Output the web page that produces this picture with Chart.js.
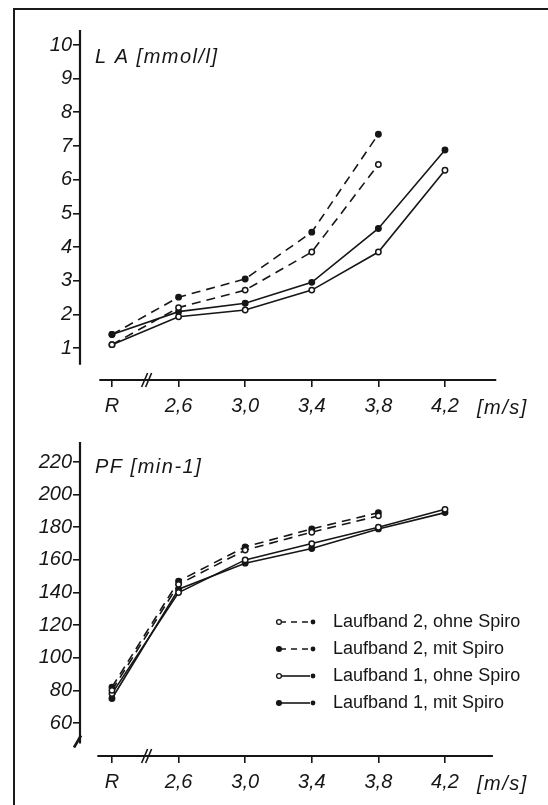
<!DOCTYPE html>
<html>
<head>
<meta charset="utf-8">
<script src="https://cdn.jsdelivr.net/npm/chart.js@4.4.1/dist/chart.umd.min.js"></script>
<style>
  html, body { margin:0; padding:0; background:#fff; width:548px; height:805px; overflow:hidden; }
  #frame { position:absolute; left:13px; top:8px; width:600px; height:900px; border-left:2.5px solid #1a1a1a; border-top:2.5px solid #1a1a1a; }
  #c1 { position:absolute; left:0; top:0; }
  #c2 { position:absolute; left:0; top:420px; }
</style>
</head>
<body>
<div id="frame"></div>
<canvas id="c1" width="548" height="420"></canvas>
<canvas id="c2" width="548" height="385"></canvas>
<script>
// ---- data ----
const categories = ['R', '2,6', '3,0', '3,4', '3,8', '4,2'];
const seriesNames = ['Laufband 2, ohne Spiro', 'Laufband 2, mit Spiro', 'Laufband 1, ohne Spiro', 'Laufband 1, mit Spiro'];
const laTicks = [1, 2, 3, 4, 5, 6, 7, 8, 9, 10];
const pfTicks = [60, 80, 100, 120, 140, 160, 180, 200, 220];

// LA [mmol/l]
const laBand2Ohne = [1.1, 2.2, 2.72, 3.85, 6.45, null];
const laBand2Mit  = [1.4, 2.51, 3.05, 4.44, 7.35, null];
const laBand1Ohne = [1.1, 1.93, 2.13, 2.72, 3.85, 6.28];
const laBand1Mit  = [1.4, 2.08, 2.33, 2.95, 4.55, 6.88];

// PF [min-1]
const pfBand2Ohne = [80, 145, 166, 177, 187, null];
const pfBand2Mit  = [82, 147, 168, 179, 189, null];
const pfBand1Ohne = [78, 140, 160, 170, 180, 191];
const pfBand1Mit  = [75, 142, 158, 167, 179, 189];

// ---- helpers ----
const INK = '#161616';
function pts(arr) { return arr.map((v, i) => v == null ? null : { x: i, y: v }).filter(p => p); }
const styles = [
  { dash: [9, 6], open: true },
  { dash: [9, 6], open: false },
  { dash: [], open: true },
  { dash: [], open: false }
];
function makeDatasets(list) {
  return list.map((arr, k) => ({
    label: seriesNames[k],
    data: pts(arr),
    borderColor: INK,
    borderWidth: 1.6,
    borderDash: styles[k].dash,
    pointRadius: 2.7,
    pointBorderWidth: 1.5,
    pointBorderColor: INK,
    pointBackgroundColor: styles[k].open ? '#fff' : INK,
    tension: 0,
    fill: false
  }));
}
const tickFont = { family: 'Liberation Sans', size: 20, style: 'italic' };

const axesPlugin = {
  id: 'axesDraw',
  afterDraw(chart, args, o) {
    const { ctx, chartArea } = chart;
    const xs = chart.scales.x, ys = chart.scales.y;
    ctx.save();
    ctx.strokeStyle = INK; ctx.fillStyle = INK; ctx.lineWidth = 2.2; ctx.setLineDash([]);
    const ax = chartArea.left;
    const yTopPx = ys.getPixelForValue(o.yTop), yBotPx = ys.getPixelForValue(o.yBottom);
    ctx.beginPath(); ctx.moveTo(ax, yTopPx); ctx.lineTo(ax, yBotPx); ctx.stroke();
    if (o.yBreak) {
      ctx.lineWidth = 2.6;
      ctx.beginPath(); ctx.moveTo(ax + 1, yBotPx - 8); ctx.lineTo(ax - 6, yBotPx + 4); ctx.stroke();
    }
    // x axis line
    const ly = chartArea.bottom;
    ctx.lineWidth = 2.2;
    ctx.beginPath(); ctx.moveTo(xs.getPixelForValue(o.xStart), ly); ctx.lineTo(xs.getPixelForValue(o.xEnd), ly); ctx.stroke();
    // break marks //
    const bx = xs.getPixelForValue(0.52);
    ctx.lineWidth = 1.6;
    [-2, 2].forEach(d => {
      ctx.beginPath(); ctx.moveTo(bx + d - 3, ly + 7); ctx.lineTo(bx + d + 3, ly - 7); ctx.stroke();
    });
    // quantity label
    ctx.font = 'italic 20px "Liberation Sans"';
    ctx.letterSpacing = '1.5px';
    ctx.textBaseline = 'middle';
    ctx.textAlign = 'left';
    ctx.fillText(o.title, o.titleX, o.titleY);
    // unit on x axis
    ctx.fillText('[m/s]', xs.getPixelForValue(5) + 32, ly + o.unitDy);
    // legend
    if (o.legend) {
      const L = o.legend;
      chart.data.datasets.forEach((ds, k) => {
        const yy = L.y + k * L.dy;
        ctx.lineWidth = 1.6;
        ctx.setLineDash(ds.borderDash.length ? [6, 5] : []);
        ctx.beginPath(); ctx.moveTo(L.x + 3, yy); ctx.lineTo(L.x + L.w - 3, yy); ctx.stroke();
        ctx.setLineDash([]);
        ctx.beginPath(); ctx.arc(L.x + 2, yy, 2.4, 0, Math.PI * 2);
        ctx.fillStyle = ds.pointBackgroundColor; ctx.fill(); ctx.lineWidth = 1.3; ctx.stroke();
        ctx.beginPath(); ctx.arc(L.x + L.w, yy, 2.4, 0, Math.PI * 2);
        ctx.fillStyle = INK; ctx.fill();
        ctx.fillStyle = INK;
        ctx.font = '18px "Liberation Sans"';
        ctx.letterSpacing = '0px';
        ctx.fillText(ds.label, L.textX, yy);
      });
    }
    ctx.restore();
  }
};

function makeChart(id, datasets, yMin, yMax, yTickList, xAxisH, padTop, o) {
  return new Chart(document.getElementById(id), {
    type: 'line',
    data: { datasets: datasets },
    options: {
      responsive: false,
      animation: false,
      events: [],
      layout: { padding: { top: padTop, right: 48, left: 0, bottom: 0 } },
      plugins: { legend: { display: false }, tooltip: { enabled: false }, axesDraw: o },
      scales: {
        x: {
          type: 'linear',
          min: -0.48, max: 5.826,
          afterBuildTicks: s => { s.ticks = categories.map((c, i) => ({ value: i })); },
          afterFit: s => { s.height = xAxisH; },
          border: { display: false },
          grid: { display: true, drawOnChartArea: false, drawTicks: true, tickLength: 7, color: INK, lineWidth: 1.6 },
          ticks: { color: INK, font: tickFont, padding: 7, autoSkip: false, maxRotation: 0,
                   callback: v => categories[v] }
        },
        y: {
          min: yMin, max: yMax,
          afterBuildTicks: s => { s.ticks = yTickList.map(v => ({ value: v })); },
          afterFit: s => { s.width = 80; },
          border: { display: false },
          grid: { display: true, drawOnChartArea: false, drawTicks: true, tickLength: 7, color: INK, lineWidth: 1.6 },
          ticks: { color: INK, font: tickFont, padding: 1, autoSkip: false }
        }
      }
    },
    plugins: [axesPlugin]
  });
}

makeChart('c1', makeDatasets([laBand2Ohne, laBand2Mit, laBand1Ohne, laBand1Mit]),
  0.05, 10.444, laTicks, 40, 30,
  { yTop: 10.444, yBottom: 0.5, xStart: -0.19, xEnd: 5.77, title: 'L A [mmol/l]', titleX: 95, titleY: 57, unitDy: 28, yBreak: false });

makeChart('c2', makeDatasets([pfBand2Ohne, pfBand2Mit, pfBand1Ohne, pfBand1Mit]),
  39.75, 232.3, pfTicks, 49, 22,
  { yTop: 232.3, yBottom: 47.4, xStart: -0.22, xEnd: 5.72, title: 'PF [min-1]', titleX: 95, titleY: 47, unitDy: 28, yBreak: true,
    legend: { x: 277, w: 36, y: 202, dy: 27, textX: 333 } });
</script>
</body>
</html>
